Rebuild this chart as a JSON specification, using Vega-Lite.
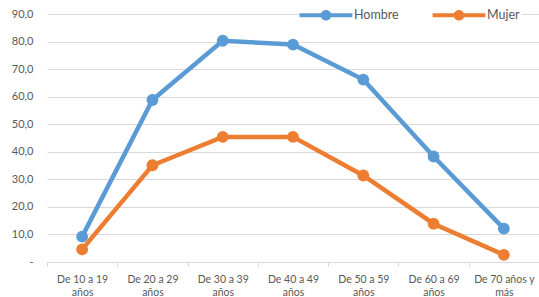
{
  "$schema": "https://vega.github.io/schema/vega-lite/v6.json",
  "width": 492,
  "height": 248,
  "autosize": {"type": "none"},
  "padding": {"left": 47, "top": 14, "right": 0, "bottom": 35},
  "config": {"view": {"stroke": null}, "font": "Lato"},
  "data": {"values": [
    {"grupo": "De 10 a 19 años", "sexo": "Hombre", "valor": 9.2},
    {"grupo": "De 20 a 29 años", "sexo": "Hombre", "valor": 58.8},
    {"grupo": "De 30 a 39 años", "sexo": "Hombre", "valor": 80.3},
    {"grupo": "De 40 a 49 años", "sexo": "Hombre", "valor": 78.9},
    {"grupo": "De 50 a 59 años", "sexo": "Hombre", "valor": 66.2},
    {"grupo": "De 60 a 69 años", "sexo": "Hombre", "valor": 38.3},
    {"grupo": "De 70 años y más", "sexo": "Hombre", "valor": 12.1},
    {"grupo": "De 10 a 19 años", "sexo": "Mujer", "valor": 4.6},
    {"grupo": "De 20 a 29 años", "sexo": "Mujer", "valor": 35.1},
    {"grupo": "De 30 a 39 años", "sexo": "Mujer", "valor": 45.4},
    {"grupo": "De 40 a 49 años", "sexo": "Mujer", "valor": 45.4},
    {"grupo": "De 50 a 59 años", "sexo": "Mujer", "valor": 31.4},
    {"grupo": "De 60 a 69 años", "sexo": "Mujer", "valor": 13.9},
    {"grupo": "De 70 años y más", "sexo": "Mujer", "valor": 2.6}
  ]},
  "encoding": {
    "x": {
      "field": "grupo", "type": "nominal", "sort": null,
      "scale": {"type": "band", "paddingInner": 0, "paddingOuter": 0},
      "axis": {
        "title": null, "labelAngle": 0, "grid": false,
        "tickBand": "extent", "domainColor": "#d9d9d9", "tickColor": "#d9d9d9",
        "tickSize": 4, "labelColor": "#595959", "labelFontSize": 10.5,
        "labelPadding": 8, "labelLineHeight": 13,
        "labelExpr": "!datum.label ? '' : datum.label == 'De 70 años y más' ? ['De 70 años y', 'más'] : [replace(datum.label, ' años', ''), 'años']"
      }
    },
    "y": {
      "field": "valor", "type": "quantitative",
      "scale": {"domain": [0, 90], "nice": false},
      "axis": {
        "title": null, "values": [0, 10, 20, 30, 40, 50, 60, 70, 80, 90],
        "domain": false, "ticks": false, "gridColor": "#d9d9d9", "gridWidth": 1,
        "labelColor": "#595959", "labelFontSize": 11, "labelPadding": 14,
        "labelExpr": "datum.value == 0 ? '-\u00a0\u00a0\u00a0' : replace(format(datum.value, '.1f'), '.', ',')"
      }
    },
    "color": {
      "field": "sexo", "type": "nominal",
      "scale": {"domain": ["Hombre", "Mujer"], "range": ["#5B9BD5", "#ED7D31"]},
      "legend": {
        "title": null, "orient": "none", "legendX": 268, "legendY": -10,
        "direction": "horizontal", "fillColor": "white", "padding": 2,
        "symbolType": "M-3,-0.23 L3,-0.23 L3,0.23 L-3,0.23 Z M-0.6,0 A0.6,0.6 0 1,1 0.6,0 A0.6,0.6 0 1,1 -0.6,0 Z",
        "symbolSize": 310, "symbolStrokeWidth": 0, "columnPadding": 33,
        "labelFontSize": 12.5, "labelColor": "#595959", "labelOffset": 19,
        "encode": {"symbols": {"update": {"fill": {"scale": "color", "field": "value"}, "fillOpacity": {"value": 1}}}}
      }
    }
  },
  "layer": [
    {"mark": {"type": "line", "strokeWidth": 4.5}},
    {"mark": {"type": "point", "filled": true, "size": 140, "opacity": 1}}
  ]
}
